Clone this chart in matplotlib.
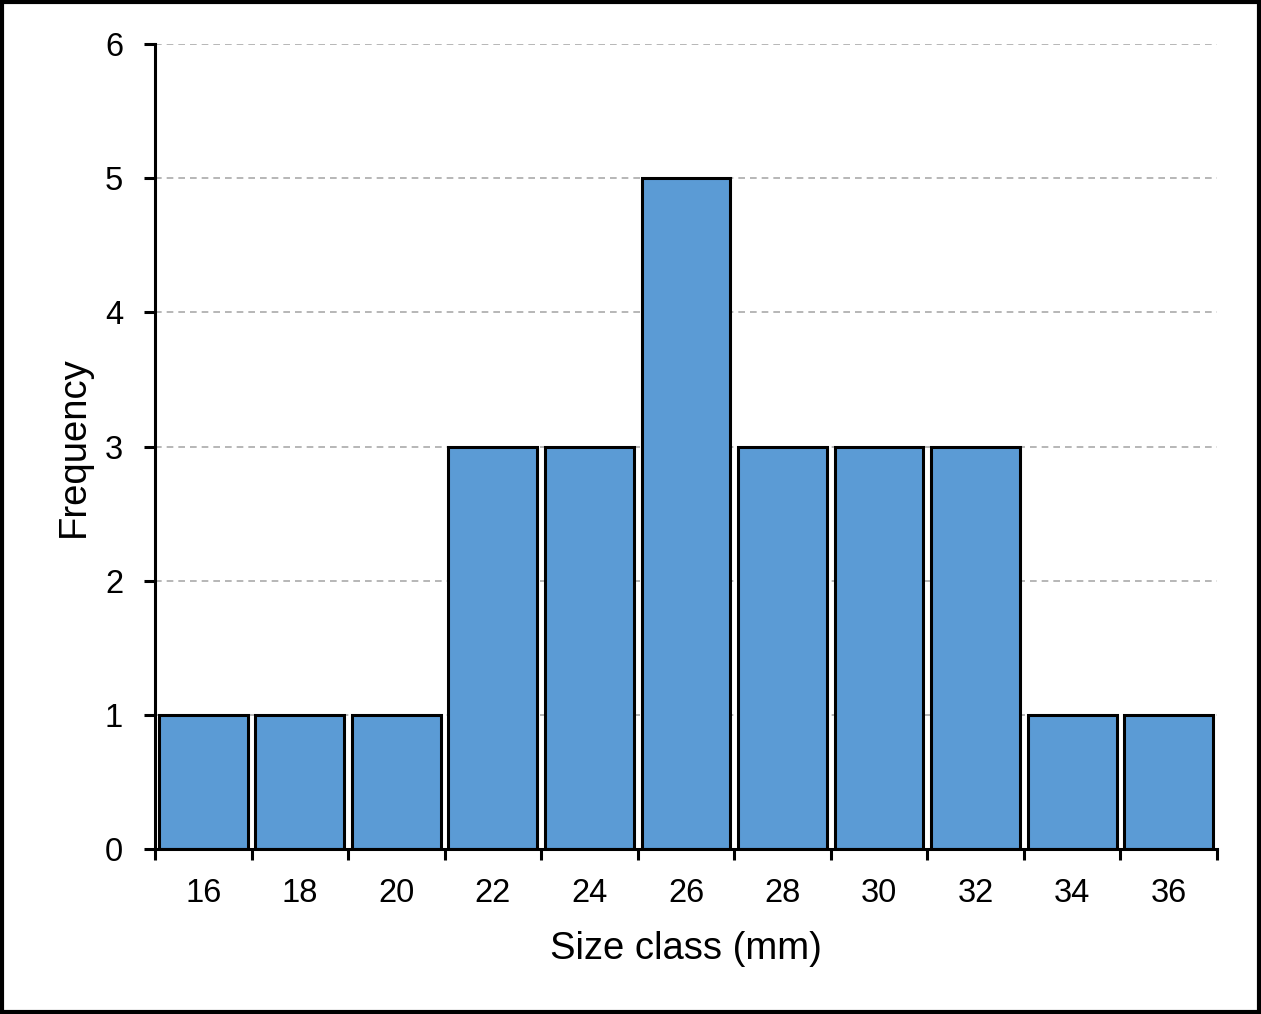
import matplotlib
matplotlib.use('Agg')
import matplotlib.pyplot as plt
from matplotlib.patches import Rectangle
import numpy as np

size_class = ['16', '18', '20', '22', '24', '26', '28', '30', '32', '34', '36']
frequency = [1, 1, 1, 3, 3, 5, 3, 3, 3, 1, 1]

plt.rcParams['font.family'] = ['Liberation Sans', 'DejaVu Sans']

fig = plt.figure(figsize=(12.61, 10.14), dpi=100)
ax = fig.add_axes([0.1229, 0.1627, 0.8422, 0.7939])

x = np.arange(len(size_class))
ax.bar(x, frequency, width=0.92, color='#5B9BD5', edgecolor='black',
       linewidth=2.2, zorder=3)

ax.set_xlim(-0.5, len(size_class) - 0.5)
ax.set_ylim(0, 6)
ax.set_yticks(range(0, 7))

# labels centered, ticks on category boundaries
ax.set_xticks(x)
ax.set_xticklabels(size_class)
ax.set_xticks(np.arange(-0.5, len(size_class)), minor=True)
ax.tick_params(axis='x', which='major', length=0, pad=21, labelsize=23.5)
ax.tick_params(axis='x', which='minor', length=8, width=2.2, direction='out')
ax.tick_params(axis='y', length=8, width=2.2, direction='out', pad=15, labelsize=23.5)

for y in range(1, 7):
    ax.axhline(y, color='#AAAAAA', linestyle=(0, (4, 3)), linewidth=1.2, zorder=1)

for side in ['top', 'right']:
    ax.spines[side].set_visible(False)
for side in ['left', 'bottom']:
    ax.spines[side].set_linewidth(2.2)
    ax.spines[side].set_zorder(4)

ax.set_xlabel('Size class (mm)', fontsize=27.5, labelpad=16)
ax.set_ylabel('Frequency', fontsize=27.5, labelpad=9)

# figure border
fig.patches.append(Rectangle((0.0015, 0.002), 0.997, 0.996, transform=fig.transFigure,
                             fill=False, edgecolor='black', linewidth=3))

fig.savefig('out.png', dpi=100)
